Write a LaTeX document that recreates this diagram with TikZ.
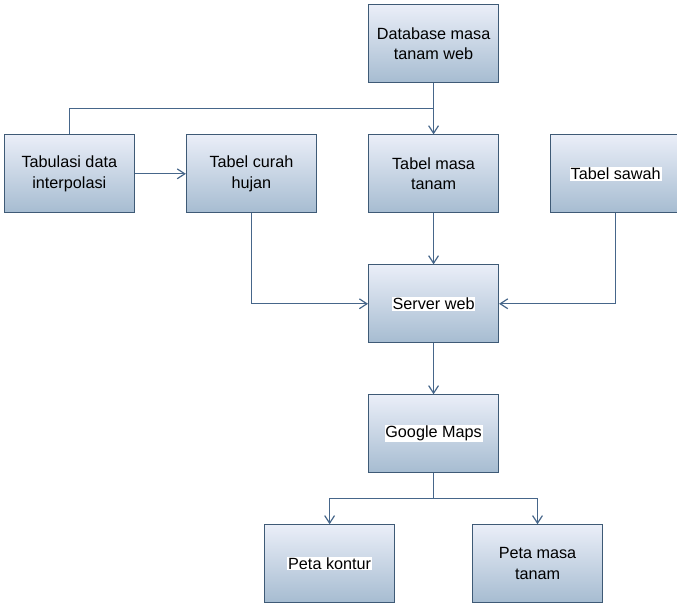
\documentclass[tikz,border=0pt]{standalone}
\usepackage{fontspec}
\setmainfont{Liberation Sans}
\usetikzlibrary{positioning, arrows.meta, calc}

\definecolor{boxline}{HTML}{3E5A76}
\definecolor{boxtop}{HTML}{EAEEF8}
\definecolor{boxbottom}{HTML}{A6BCD1}
\definecolor{wire}{HTML}{46668A}

\newcommand{\whitebg}[1]{{\setlength{\fboxsep}{0.6pt}\colorbox{white}{#1}}}

\begin{document}
\begin{tikzpicture}[node distance=1.35cm,
    box/.style={draw=boxline, line width=0.8pt, top color=boxtop, bottom color=boxbottom,
        align=center, minimum width=3.44cm, minimum height=2.06cm,
        font=\fontsize{12.2}{15.5}\selectfont},
    flow/.style={draw=wire, line width=0.9pt, -{Straight Barb[length=2mm, width=2.6mm]}},
    link/.style={draw=wire, line width=0.9pt}]
    \useasboundingbox (-11.47,1.16) rectangle (6.44,-14.82);

    \node[box] (db) at (0,0) {Database masa\\tanam web};
    \node[box, below=of db] (masa) {Tabel masa\\tanam};
    \node[box, left=of masa] (curah) {Tabel curah\\hujan};
    \node[box, left=of curah] (tab) {Tabulasi data\\interpolasi};
    \node[box, right=of masa] (sawah) {\whitebg{Tabel sawah}};
    \node[box, below=of masa] (server) {\whitebg{Server web}};
    \node[box, below=of server] (gmaps) {\whitebg{Google Maps}};
    \node[box, below=of gmaps, xshift=-2.75cm] (kontur) {\whitebg{Peta kontur}};
    \node[box, below=of gmaps, xshift=2.75cm] (petamasa) {Peta masa\\tanam};

    \coordinate (join) at ($(db.south)!0.5!(masa.north)$);
    \coordinate (split) at ($(gmaps.south)!0.5!(gmaps.south |- kontur.north)$);

    \draw[flow] (db) -- (masa);
    \draw[link] (tab.north) |- (join);
    \draw[flow] (tab) -- (curah);
    \draw[flow] (masa) -- (server);
    \draw[flow] (curah.south) |- (server.west);
    \draw[flow] (sawah.south) |- (server.east);
    \draw[flow] (server) -- (gmaps);
    \draw[link] (gmaps.south) -- (split);
    \draw[flow] (split) -| (kontur.north);
    \draw[flow] (split) -| (petamasa.north);
\end{tikzpicture}
\end{document}
